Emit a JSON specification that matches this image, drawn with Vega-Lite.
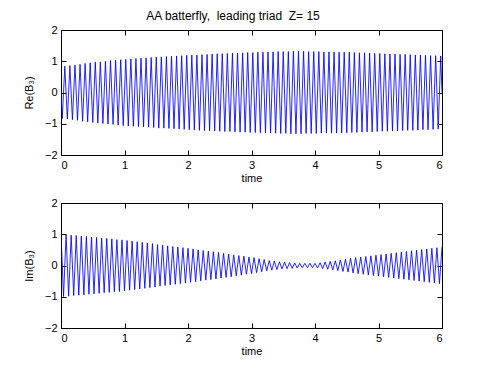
{
"$schema": "https://vega.github.io/schema/vega-lite/v6.json",
"padding": {"left": 23, "top": 10, "right": 5, "bottom": 5},
"title": {"text": "AA batterfly,\u00a0 leading triad\u00a0 Z= 15", "font": "Liberation Sans", "fontSize": 12, "fontWeight": "normal", "color": "black", "anchor": "middle", "offset": 1},
"spacing": 14,
"config": {
  "view": {"stroke": null},
  "axis": {"domainColor": "black", "tickColor": "black", "labelColor": "black", "titleColor": "black", "labelFont": "Liberation Sans", "titleFont": "Liberation Sans", "labelFontSize": 11, "titleFontSize": 11, "titleFontWeight": "normal", "grid": false, "tickSize": -5, "labelPadding": 9, "domainWidth": 1, "tickWidth": 1}
},
"datasets": {
"re": [
{"t":0,"v":0},{"t":0.02,"v":-0.83},{"t":0.06,"v":0.84},{"t":0.10,"v":-0.85},{"t":0.14,"v":0.86},{"t":0.18,"v":-0.87},{"t":0.22,"v":0.88},{"t":0.26,"v":-0.89},{"t":0.30,"v":0.90},{"t":0.34,"v":-0.92},{"t":0.38,"v":0.93},{"t":0.42,"v":-0.94},{"t":0.46,"v":0.95},
{"t":0.50,"v":-0.96},{"t":0.54,"v":0.97},{"t":0.58,"v":-0.98},{"t":0.62,"v":0.98},{"t":0.66,"v":-0.99},{"t":0.70,"v":1.00},{"t":0.74,"v":-1.01},{"t":0.78,"v":1.02},{"t":0.82,"v":-1.02},{"t":0.86,"v":1.03},{"t":0.90,"v":-1.04},{"t":0.94,"v":1.05},{"t":0.98,"v":-1.06},
{"t":1.02,"v":1.06},{"t":1.06,"v":-1.07},{"t":1.10,"v":1.07},{"t":1.14,"v":-1.08},{"t":1.18,"v":1.09},{"t":1.22,"v":-1.09},{"t":1.26,"v":1.10},{"t":1.30,"v":-1.10},{"t":1.34,"v":1.11},{"t":1.38,"v":-1.11},{"t":1.42,"v":1.12},{"t":1.46,"v":-1.12},
{"t":1.50,"v":1.13},{"t":1.54,"v":-1.14},{"t":1.58,"v":1.14},{"t":1.62,"v":-1.14},{"t":1.66,"v":1.15},{"t":1.70,"v":-1.15},{"t":1.74,"v":1.16},{"t":1.78,"v":-1.16},{"t":1.82,"v":1.17},{"t":1.86,"v":-1.17},{"t":1.90,"v":1.18},{"t":1.94,"v":-1.18},{"t":1.98,"v":1.19},
{"t":2.02,"v":-1.19},{"t":2.06,"v":1.20},{"t":2.10,"v":-1.20},{"t":2.14,"v":1.20},{"t":2.18,"v":-1.21},{"t":2.22,"v":1.21},{"t":2.26,"v":-1.22},{"t":2.30,"v":1.22},{"t":2.34,"v":-1.22},{"t":2.38,"v":1.23},{"t":2.42,"v":-1.23},{"t":2.46,"v":1.24},
{"t":2.50,"v":-1.24},{"t":2.54,"v":1.24},{"t":2.58,"v":-1.25},{"t":2.62,"v":1.25},{"t":2.66,"v":-1.25},{"t":2.70,"v":1.26},{"t":2.74,"v":-1.26},{"t":2.78,"v":1.26},{"t":2.82,"v":-1.27},{"t":2.86,"v":1.27},{"t":2.90,"v":-1.27},{"t":2.94,"v":1.28},{"t":2.98,"v":-1.28},
{"t":3.02,"v":1.28},{"t":3.06,"v":-1.28},{"t":3.10,"v":1.29},{"t":3.14,"v":-1.29},{"t":3.18,"v":1.29},{"t":3.22,"v":-1.29},{"t":3.26,"v":1.30},{"t":3.30,"v":-1.30},{"t":3.34,"v":1.30},{"t":3.38,"v":-1.30},{"t":3.42,"v":1.31},{"t":3.46,"v":-1.31},
{"t":3.50,"v":1.31},{"t":3.54,"v":-1.31},{"t":3.58,"v":1.31},{"t":3.62,"v":-1.32},{"t":3.66,"v":1.32},{"t":3.70,"v":-1.32},{"t":3.74,"v":1.32},{"t":3.78,"v":-1.32},{"t":3.82,"v":1.32},{"t":3.86,"v":-1.31},{"t":3.90,"v":1.31},{"t":3.94,"v":-1.31},{"t":3.98,"v":1.31},
{"t":4.02,"v":-1.31},{"t":4.06,"v":1.31},{"t":4.10,"v":-1.30},{"t":4.14,"v":1.30},{"t":4.18,"v":-1.30},{"t":4.22,"v":1.30},{"t":4.26,"v":-1.30},{"t":4.30,"v":1.30},{"t":4.34,"v":-1.30},{"t":4.38,"v":1.29},{"t":4.42,"v":-1.29},{"t":4.46,"v":1.29},
{"t":4.50,"v":-1.29},{"t":4.54,"v":1.29},{"t":4.58,"v":-1.28},{"t":4.62,"v":1.28},{"t":4.66,"v":-1.28},{"t":4.70,"v":1.27},{"t":4.74,"v":-1.27},{"t":4.78,"v":1.27},{"t":4.82,"v":-1.26},{"t":4.86,"v":1.26},{"t":4.90,"v":-1.26},{"t":4.94,"v":1.25},{"t":4.98,"v":-1.25},
{"t":5.02,"v":1.25},{"t":5.06,"v":-1.24},{"t":5.10,"v":1.24},{"t":5.14,"v":-1.24},{"t":5.18,"v":1.23},{"t":5.22,"v":-1.23},{"t":5.26,"v":1.23},{"t":5.30,"v":-1.23},{"t":5.34,"v":1.22},{"t":5.38,"v":-1.22},{"t":5.42,"v":1.22},{"t":5.46,"v":-1.21},
{"t":5.50,"v":1.21},{"t":5.54,"v":-1.21},{"t":5.58,"v":1.20},{"t":5.62,"v":-1.20},{"t":5.66,"v":1.20},{"t":5.70,"v":-1.19},{"t":5.74,"v":1.19},{"t":5.78,"v":-1.19},{"t":5.82,"v":1.18},{"t":5.86,"v":-1.18},{"t":5.90,"v":1.18},{"t":5.94,"v":-1.17},{"t":5.98,"v":1.17},{"t":6,"v":0}
],
"im": [
{"t":0.00,"v":1.00},{"t":0.04,"v":-0.99},{"t":0.08,"v":0.99},{"t":0.12,"v":-0.98},{"t":0.16,"v":0.97},{"t":0.20,"v":-0.96},{"t":0.24,"v":0.96},{"t":0.28,"v":-0.95},{"t":0.32,"v":0.94},{"t":0.36,"v":-0.94},{"t":0.40,"v":0.93},{"t":0.44,"v":-0.92},{"t":0.48,"v":0.91},
{"t":0.52,"v":-0.91},{"t":0.56,"v":0.90},{"t":0.60,"v":-0.89},{"t":0.64,"v":0.88},{"t":0.68,"v":-0.87},{"t":0.72,"v":0.87},{"t":0.76,"v":-0.86},{"t":0.80,"v":0.85},{"t":0.84,"v":-0.84},{"t":0.88,"v":0.83},{"t":0.92,"v":-0.83},{"t":0.96,"v":0.82},{"t":1.00,"v":-0.81},
{"t":1.04,"v":0.80},{"t":1.08,"v":-0.79},{"t":1.12,"v":0.78},{"t":1.16,"v":-0.77},{"t":1.20,"v":0.76},{"t":1.24,"v":-0.75},{"t":1.28,"v":0.74},{"t":1.32,"v":-0.73},{"t":1.36,"v":0.72},{"t":1.40,"v":-0.71},{"t":1.44,"v":0.70},{"t":1.48,"v":-0.69},
{"t":1.52,"v":0.67},{"t":1.56,"v":-0.66},{"t":1.60,"v":0.65},{"t":1.64,"v":-0.64},{"t":1.68,"v":0.63},{"t":1.72,"v":-0.62},{"t":1.76,"v":0.61},{"t":1.80,"v":-0.60},{"t":1.84,"v":0.59},{"t":1.88,"v":-0.58},{"t":1.92,"v":0.57},{"t":1.96,"v":-0.56},{"t":2.00,"v":0.55},
{"t":2.04,"v":-0.54},{"t":2.08,"v":0.53},{"t":2.12,"v":-0.52},{"t":2.16,"v":0.50},{"t":2.20,"v":-0.49},{"t":2.24,"v":0.48},{"t":2.28,"v":-0.47},{"t":2.32,"v":0.46},{"t":2.36,"v":-0.45},{"t":2.40,"v":0.44},{"t":2.44,"v":-0.43},{"t":2.48,"v":0.42},
{"t":2.52,"v":-0.40},{"t":2.56,"v":0.39},{"t":2.60,"v":-0.38},{"t":2.64,"v":0.37},{"t":2.68,"v":-0.36},{"t":2.72,"v":0.34},{"t":2.76,"v":-0.33},{"t":2.80,"v":0.32},{"t":2.84,"v":-0.31},{"t":2.88,"v":0.30},{"t":2.92,"v":-0.28},{"t":2.96,"v":0.27},{"t":3.00,"v":-0.26},
{"t":3.04,"v":0.25},{"t":3.08,"v":-0.23},{"t":3.12,"v":0.22},{"t":3.16,"v":-0.20},{"t":3.20,"v":0.19},{"t":3.24,"v":-0.17},
{"t":3.28,"v":0.16},{"t":3.32,"v":-0.15},{"t":3.36,"v":0.14},{"t":3.40,"v":-0.13},{"t":3.44,"v":0.12},{"t":3.48,"v":-0.11},
{"t":3.52,"v":0.11},{"t":3.56,"v":-0.10},{"t":3.60,"v":0.09},{"t":3.64,"v":-0.09},{"t":3.68,"v":0.08},{"t":3.72,"v":-0.08},
{"t":3.76,"v":0.07},{"t":3.80,"v":-0.07},{"t":3.84,"v":0.07},{"t":3.88,"v":-0.07},{"t":3.92,"v":0.07},{"t":3.96,"v":-0.07},{"t":4.00,"v":0.07},
{"t":4.04,"v":-0.08},{"t":4.08,"v":0.09},{"t":4.12,"v":-0.10},{"t":4.16,"v":0.11},{"t":4.20,"v":-0.12},{"t":4.24,"v":0.13},
{"t":4.28,"v":-0.14},{"t":4.32,"v":0.15},{"t":4.36,"v":-0.16},{"t":4.40,"v":0.18},{"t":4.44,"v":-0.19},{"t":4.48,"v":0.20},
{"t":4.52,"v":-0.21},{"t":4.56,"v":0.23},{"t":4.60,"v":-0.24},{"t":4.64,"v":0.25},{"t":4.68,"v":-0.26},{"t":4.72,"v":0.27},{"t":4.76,"v":-0.28},{"t":4.80,"v":0.29},{"t":4.84,"v":-0.30},{"t":4.88,"v":0.31},{"t":4.92,"v":-0.32},{"t":4.96,"v":0.33},{"t":5.00,"v":-0.34},
{"t":5.04,"v":0.35},{"t":5.08,"v":-0.36},{"t":5.12,"v":0.37},{"t":5.16,"v":-0.38},{"t":5.20,"v":0.39},{"t":5.24,"v":-0.40},{"t":5.28,"v":0.41},{"t":5.32,"v":-0.42},{"t":5.36,"v":0.43},{"t":5.40,"v":-0.44},{"t":5.44,"v":0.45},{"t":5.48,"v":-0.46},
{"t":5.52,"v":0.47},{"t":5.56,"v":-0.48},{"t":5.60,"v":0.49},{"t":5.64,"v":-0.50},{"t":5.68,"v":0.51},{"t":5.72,"v":-0.52},{"t":5.76,"v":0.53},{"t":5.80,"v":-0.54},{"t":5.84,"v":0.55},{"t":5.88,"v":-0.56},{"t":5.92,"v":0.57},{"t":5.96,"v":-0.58},{"t":6.00,"v":0.59}
]
},
"vconcat": [
{
  "width": 381, "height": 125,
  "data": {"name": "re"},
  "layer": [
    {"mark": {"type": "line", "color": "#0000ff", "strokeWidth": 0.85, "clip": true},
     "encoding": {
       "x": {"field": "t", "type": "quantitative", "scale": {"domain": [0, 6], "nice": false}, "axis": {"orient": "bottom", "title": "time", "values": [0,1,2,3,4,5,6], "titlePadding": 2}},
       "y": {"field": "v", "type": "quantitative", "scale": {"domain": [-2, 2], "nice": false}, "axis": {"orient": "left", "title": "Re(B₃)", "values": [-2,-1,0,1,2], "titlePadding": 10}}
     }},
    {"mark": {"type": "line", "opacity": 0},
     "encoding": {
       "x": {"field": "t", "type": "quantitative", "axis": {"orient": "top", "labels": false, "title": null, "values": [0,1,2,3,4,5,6]}},
       "y": {"field": "v", "type": "quantitative", "axis": {"orient": "right", "labels": false, "title": null, "values": [-2,-1,0,1,2]}}
     }}
  ],
  "resolve": {"axis": {"x": "independent", "y": "independent"}}
},
{
  "width": 381, "height": 125,
  "data": {"name": "im"},
  "layer": [
    {"mark": {"type": "line", "color": "#0000ff", "strokeWidth": 0.85, "clip": true},
     "encoding": {
       "x": {"field": "t", "type": "quantitative", "scale": {"domain": [0, 6], "nice": false}, "axis": {"orient": "bottom", "title": "time", "values": [0,1,2,3,4,5,6], "titlePadding": 2}},
       "y": {"field": "v", "type": "quantitative", "scale": {"domain": [-2, 2], "nice": false}, "axis": {"orient": "left", "title": "Im(B₃)", "values": [-2,-1,0,1,2], "titlePadding": 10}}
     }},
    {"mark": {"type": "line", "opacity": 0},
     "encoding": {
       "x": {"field": "t", "type": "quantitative", "axis": {"orient": "top", "labels": false, "title": null, "values": [0,1,2,3,4,5,6]}},
       "y": {"field": "v", "type": "quantitative", "axis": {"orient": "right", "labels": false, "title": null, "values": [-2,-1,0,1,2]}}
     }}
  ],
  "resolve": {"axis": {"x": "independent", "y": "independent"}}
}
]
}
